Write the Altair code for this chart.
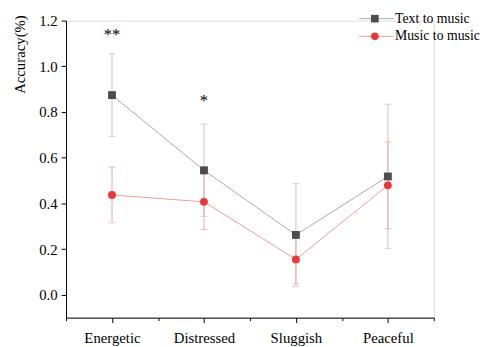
import altair as alt
import pandas as pd

categories = ['Energetic', 'Distressed', 'Sluggish', 'Peaceful']
series_names = ['Text to music', 'Music to music']
text_mean = [0.874, 0.545, 0.262, 0.518]
text_err = [0.181, 0.202, 0.225, 0.316]
music_mean = [0.437, 0.407, 0.155, 0.479]
music_err = [0.122, 0.121, 0.107, 0.190]
sig_labels = ['**', '*']
sig_cats = ['Energetic', 'Distressed']
sig_y = [1.115, 0.825]
y_ticks = [0.0, 0.1, 0.2, 0.3, 0.4, 0.5, 0.6, 0.7, 0.8, 0.9, 1.0, 1.1, 1.2]
x_ticks = [-0.5, 0, 0.5, 1, 1.5, 2, 2.5, 3, 3.5]
marker_keys = ['m0', 'm1']
errbar_keys = ['e0', 'e1']

FONT = 'Liberation Serif'

rows = []
for s in range(2):
    means = [text_mean, music_mean][s]
    errs = [text_err, music_err][s]
    for i, (c, m, e) in enumerate(zip(categories, means, errs)):
        rows.append({'series': series_names[s], 'mkey': marker_keys[s],
                     'ekey': errbar_keys[s], 'cat': c, 'idx': i, 'mean': m,
                     'lo': m - e, 'hi': m + e})
df = pd.DataFrame(rows)

sig_df = pd.DataFrame({'label': sig_labels,
                       'idx': [categories.index(c) for c in sig_cats],
                       'y': sig_y})

cat_arr = '[' + ','.join("'%s'" % c for c in categories) + ']'
x_label_expr = ("datum.value % 1 == 0 && datum.value >= 0 && datum.value <= 3 ? "
                + cat_arr + "[datum.value] : ''")

x_enc = alt.X('idx:Q',
              scale=alt.Scale(domain=[-0.5, 3.5], nice=False, zero=False),
              axis=alt.Axis(values=x_ticks, labelExpr=x_label_expr, title=None,
                            grid=False, domainColor='black', tickColor='black',
                            tickSize={"condition": {"test": "datum.value % 1 == 0", "value": 5}, "value": 3},
                            labelFont=FONT, labelFontSize=15, labelColor='black',
                            labelPadding=8, labelOverlap=False))

y_scale = alt.Scale(domain=[-0.1, 1.2], nice=False, zero=False)
y_axis = alt.Axis(values=y_ticks,
                  labelExpr="round(datum.value*10) % 2 == 0 ? format(datum.value, '.1f') : ''",
                  tickSize={"condition": {"test": "round(datum.value*10) % 2 == 0", "value": 5}, "value": 3},
                  grid=False, domainColor='black', tickColor='black',
                  labelFont=FONT, labelFontSize=15, labelColor='black', labelPadding=4,
                  labelOverlap=False,
                  title='Accuracy(%)', titleFont=FONT, titleFontSize=15,
                  titleFontWeight='normal', titleColor='black',
                  titleX=-47, titleY=34, titleAlign='center', titleBaseline='middle')

err_color = alt.Color('ekey:N', scale=alt.Scale(domain=errbar_keys,
                                                range=['#c4c4c4', '#f3a5a5']),
                      legend=None)

base = alt.Chart(df)

errbars = base.mark_rule(strokeWidth=1).encode(
    x=x_enc, y=alt.Y('lo:Q', scale=y_scale, axis=y_axis), y2='hi:Q', color=err_color)

caps_lo = base.mark_tick(orient='horizontal', size=7, thickness=1).encode(
    x=x_enc, y=alt.Y('lo:Q', scale=y_scale), color=err_color)
caps_hi = base.mark_tick(orient='horizontal', size=7, thickness=1).encode(
    x=x_enc, y=alt.Y('hi:Q', scale=y_scale), color=err_color)

lines = base.mark_line(strokeWidth=1).encode(
    x=x_enc, y=alt.Y('mean:Q', scale=y_scale),
    stroke=alt.Stroke('series:N',
                      scale=alt.Scale(domain=series_names, range=['#a8a8a8', '#f29a9a']),
                      legend=alt.Legend(title=None, orient='none', legendX=308.5, legendY=-9,
                                        padding=0, symbolType='M-3.5,0H3.5', symbolSize=100,
                                        symbolStrokeWidth=1, labelOffset=12,
                                        labelFont=FONT, labelFontSize=14, labelColor='black',
                                        rowPadding=4)))

point_legend = alt.Legend(title=None, orient='none', legendX=307, legendY=-9,
                          padding=0, symbolSize=60, labelOffset=12,
                          labelFont=FONT, labelFontSize=14, labelExpr="''",
                          rowPadding=4)

points = base.mark_point(filled=True, size=64, opacity=1).encode(
    x=x_enc, y=alt.Y('mean:Q', scale=y_scale),
    fill=alt.Fill('mkey:N', scale=alt.Scale(domain=marker_keys, range=['#4d4d4d', '#e8383b']),
                  legend=point_legend),
    shape=alt.Shape('mkey:N', scale=alt.Scale(domain=marker_keys, range=['square', 'circle']),
                    legend=point_legend))

sig = alt.Chart(sig_df).mark_text(font=FONT, fontSize=17, color='black',
                                  baseline='alphabetic', align='center').encode(
    x=x_enc, y=alt.Y('y:Q', scale=y_scale), text='label:N')

chart = alt.layer(errbars, caps_lo, caps_hi, lines, points, sig).properties(
    width=374, height=302,
    autosize=alt.AutoSizeParams(type='none'),
    padding={'left': 59, 'top': 10, 'right': 52, 'bottom': 27},
).configure_view(stroke=None).configure(background='white')

chart.save('out.html', embed_options={'renderer': 'svg', 'actions': False})
